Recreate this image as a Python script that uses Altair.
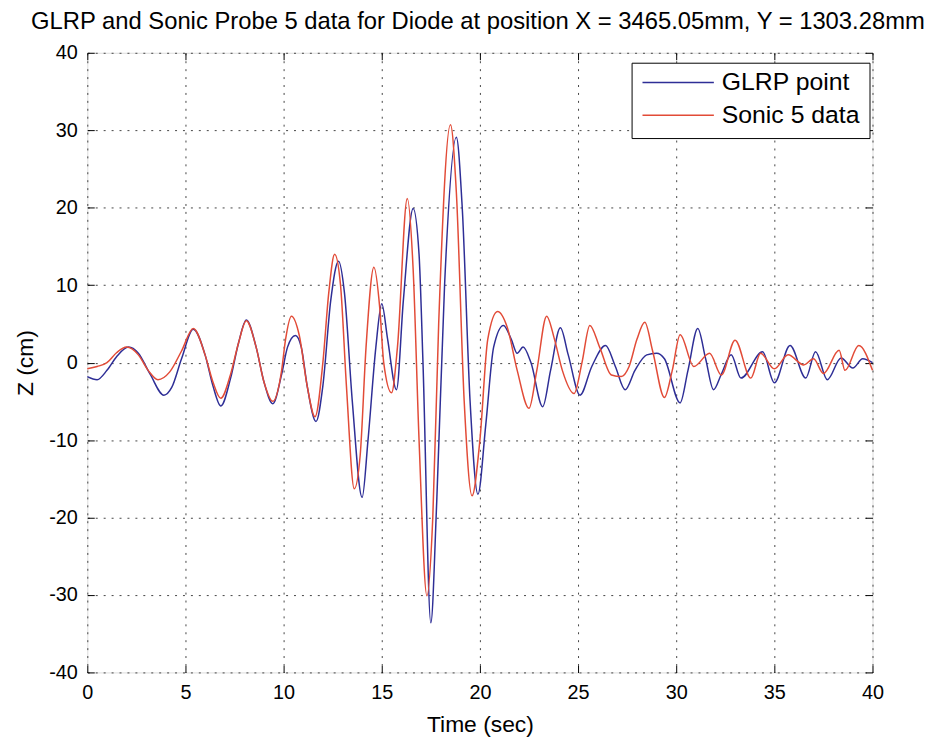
import altair as alt
import pandas as pd

# GLRP point (blue) : time (s) and Z (cm)
glrp_t = [0.0, 0.5, 1.0, 1.5, 2.1, 2.6, 3.2, 3.9, 4.3, 4.8, 5.4, 6.0, 6.4, 6.8, 7.3, 7.7, 8.1, 8.6, 9.0,
          9.45, 9.9, 10.2, 10.6, 10.9, 11.2, 11.65, 12.0, 12.4, 12.8, 13.1, 13.5, 14.0, 14.3, 14.7, 15.0,
          15.3, 15.75, 16.1, 16.6, 16.9, 17.1, 17.5, 17.8, 18.2, 18.8, 19.1, 19.5, 19.9, 20.3, 20.7, 21.2,
          21.6, 21.9, 22.2, 22.6, 23.2, 23.6, 24.1, 24.5, 25.1, 25.7, 26.4, 26.9, 27.4, 27.9, 28.5, 29.0,
          29.4, 30.2, 30.6, 31.1, 31.5, 31.9, 32.3, 32.8, 33.3, 34.4, 35.0, 35.8, 36.6, 37.1, 37.7, 38.4,
          39.0, 39.5, 40.0]
glrp_z = [-1.8, -2.2, -1.0, 0.8, 2.0, 1.2, -1.5, -4.2, -3.2, 0.5, 4.3, 1.0, -3.0, -5.6, -2.0, 2.5, 5.5, 2.0, -2.5,
          -5.3, -1.5, 2.0, 3.5, 2.0, -3.0, -7.6, -3.0, 8.0, 13.1, 9.0, -5.0, -17.4, -10.0, 2.0, 7.6,
          3.0, -3.5, 8.0, 19.9, 14.0, 0.0, -33.6, -18.0, 10.0, 29.1, 20.0, -5.0, -17.0, -8.0, 2.0, 4.8,
          3.0, 1.2, 2.0, 0.0, -5.7, -1.0, 4.5, 1.0, -4.2, -0.5, 2.2, -0.5, -3.5, -1.0, 1.0, 1.2,
          0.5, -5.2, -1.0, 4.4, 0.5, -3.5, -1.5, 1.0, -2.0, 1.4, -2.6, 2.2, -2.0, 1.4, -2.2, 0.6,
          -0.7, 0.5, 0.0]

# Sonic 5 data (red)
sonic_t = [0.0, 0.5, 1.0, 1.5, 2.0, 2.6, 3.1, 3.6, 4.2, 4.8, 5.4, 6.0, 6.4, 6.8, 7.3, 7.7, 8.1, 8.6, 9.0,
           9.45, 9.9, 10.1, 10.4, 10.8, 11.2, 11.6, 12.0, 12.3, 12.6, 12.9, 13.2, 13.6, 13.9, 14.2, 14.6,
           14.9, 15.1, 15.5, 15.8, 16.3, 16.6, 16.9, 17.3, 17.6, 17.9, 18.5, 18.8, 19.2, 19.6, 20.0, 20.4,
           20.9, 21.4, 21.9, 22.5, 22.9, 23.4, 23.8, 24.2, 24.8, 25.2, 25.6, 26.1, 26.7, 27.2, 27.6, 28.0,
           28.4, 28.8, 29.4, 29.8, 30.2, 30.9, 31.7, 32.3, 33.0, 33.8, 34.3, 35.0, 35.7, 36.5, 37.0, 37.5,
           38.3, 38.6, 39.3, 40.0]
sonic_z = [-0.8, -0.5, 0.0, 1.3, 2.0, 1.0, -1.0, -2.2, -1.2, 1.5, 4.4, 1.0, -2.5, -4.6, -1.5, 2.5, 5.4, 2.0, -2.5,
           -5.0, -1.0, 3.0, 6.0, 3.5, -3.0, -7.0, 0.0, 9.0, 14.0, 10.0, -3.0, -16.3, -12.0, 2.0, 12.3,
           7.0, 0.0, -3.9, 2.0, 21.2, 12.0, -10.0, -30.1, -20.0, 5.0, 30.7, 22.0, -5.0, -17.2, -10.0, 3.0,
           6.6, 4.5, -1.0, -5.9, -1.0, 6.0, 3.0, -1.0, -4.0, 0.0, 4.8, 2.0, -1.6, -1.8, -0.5, 3.0,
           5.2, 1.5, -4.5, -1.0, 3.6, -0.5, 1.2, -1.6, 2.9, -2.0, 1.2, -0.8, 1.0, -0.3, 0.5, -1.4,
           1.6, -1.0, 2.2, -1.0]

series_names = ["GLRP point", "Sonic 5 data"]
series_colors = ["#2e2e96", "#e24b37"]
x_ticks = [0, 5, 10, 15, 20, 25, 30, 35, 40]
y_ticks = [-40, -30, -20, -10, 0, 10, 20, 30, 40]

df = pd.concat([
    pd.DataFrame({"t": glrp_t, "z": glrp_z, "series": series_names[0], "order": range(len(glrp_t))}),
    pd.DataFrame({"t": sonic_t, "z": sonic_z, "series": series_names[1], "order": range(len(sonic_t))}),
])

FONT = "Liberation Sans"

xscale = alt.Scale(domain=[0, 40], nice=False, zero=False)
yscale = alt.Scale(domain=[-40, 40], nice=False, zero=False)

lines = alt.Chart(df).mark_line(strokeWidth=1.5, interpolate="monotone").encode(
    x=alt.X("t:Q", scale=xscale, title="Time (sec)",
            axis=alt.Axis(orient="bottom", values=x_ticks, offset=-7, domain=False, tickSize=7,
                          tickColor="black", labelPadding=10, labelFontSize=20, labelFont=FONT,
                          labelColor="black", grid=True, gridColor="#444444", gridDash=[2, 6],
                          titleFont=FONT, titleFontSize=23, titleFontWeight="normal",
                          titleColor="black", titlePadding=12, labelFlush=False,
                          labelExpr="'' + datum.value")),
    y=alt.Y("z:Q", scale=yscale, title="Z (cm)",
            axis=alt.Axis(orient="left", values=y_ticks, offset=-7, domain=False, tickSize=7,
                          tickColor="black", labelPadding=10, labelFontSize=20, labelFont=FONT,
                          labelColor="black", grid=True, gridColor="#444444", gridDash=[2, 6],
                          titleFont=FONT, titleFontSize=23, titleFontWeight="normal",
                          titleColor="black", titlePadding=11, labelFlush=False,
                          labelExpr="'' + datum.value")),
    color=alt.Color("series:N", scale=alt.Scale(domain=series_names, range=series_colors),
                    legend=alt.Legend(title=None, orient="none", legendX=549, legendY=10,
                                      fillColor="white", strokeColor="black", padding=10,
                                      symbolType="stroke", symbolSize=5184, symbolStrokeWidth=1.5,
                                      labelFont=FONT, labelFontSize=25, labelColor="black",
                                      labelOffset=7, clipHeight=20, rowPadding=8)),
    order="order:Q",
)

frame = alt.Chart(df).mark_line(opacity=0).encode(
    x=alt.X("t:Q", scale=xscale, title=None,
            axis=alt.Axis(orient="top", values=x_ticks, offset=-7, domain=False, tickSize=7,
                          tickColor="black", labels=False, grid=False, minExtent=0, maxExtent=0)),
    y=alt.Y("z:Q", scale=yscale, title=None,
            axis=alt.Axis(orient="right", values=y_ticks, offset=-7, domain=False, tickSize=7,
                          tickColor="black", labels=False, grid=False, minExtent=0, maxExtent=0)),
    detail="series:N",
)

chart = alt.layer(lines, frame).resolve_axis(x="independent", y="independent").properties(
    width=792, height=625,
    autosize=alt.AutoSizeParams(type="none"),
    padding={"left": 80, "top": 42, "right": 57, "bottom": 67},
    title=alt.TitleParams("GLRP and Sonic Probe 5 data for Diode at position X = 3465.05mm, Y = 1303.28mm",
                          font=FONT, fontSize=24, fontWeight="normal", color="black",
                          anchor="middle", baseline="alphabetic", offset=20, dx=-2, dy=30),
).configure_view(stroke="black", strokeWidth=1.2).configure(background="white")

chart.save("out.html", embed_options={"renderer": "svg", "actions": False})
